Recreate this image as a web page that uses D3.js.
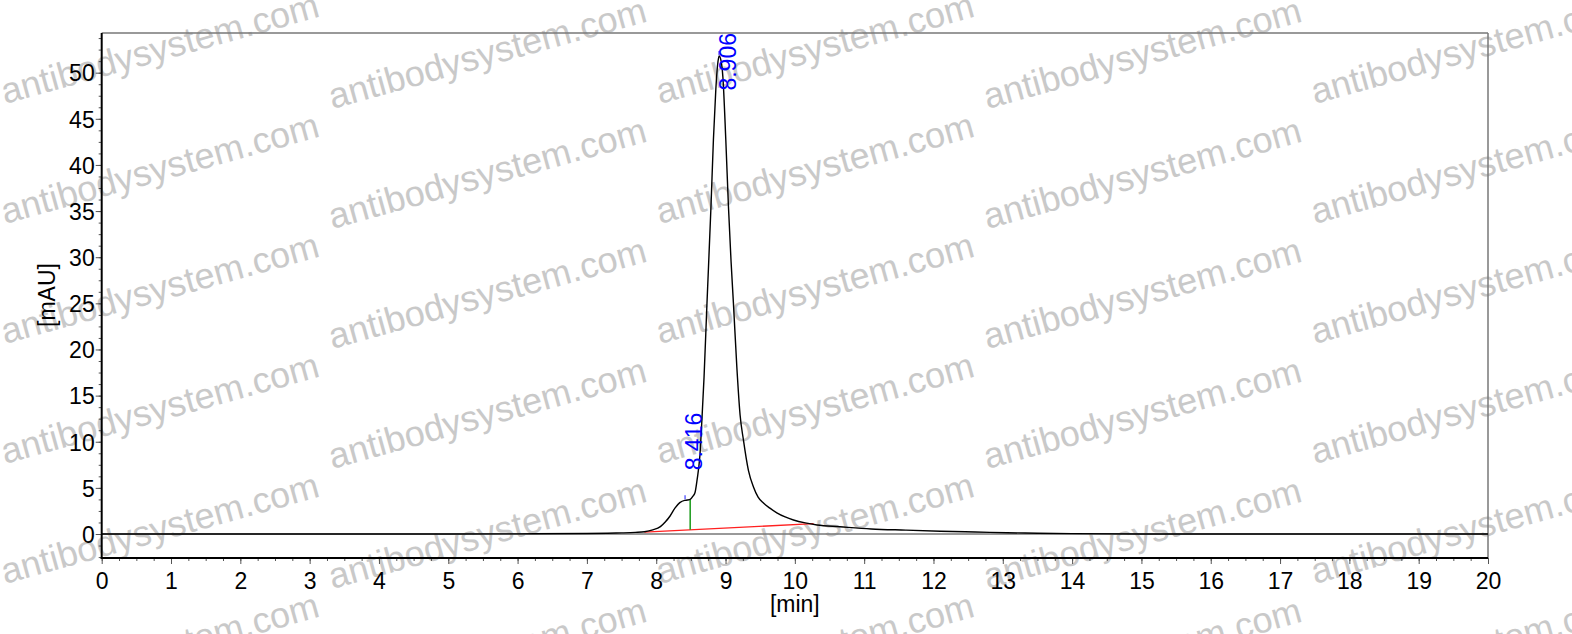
<!DOCTYPE html>
<html>
<head>
<meta charset="utf-8">
<script src="https://cdn.jsdelivr.net/npm/d3@7"></script>
<style>
  body { margin: 0; background: #fff; }
  text { font-family: "Liberation Sans", Arial, sans-serif; }
</style>
</head>
<body>
<div id="chart"></div>
<script>
// chromatogram trace (time in min, signal in mAU)
var times = [0, 5, 6, 7, 7.3, 7.5, 7.7, 7.83, 7.95, 8.06, 8.13, 8.2, 8.27, 8.34, 8.41, 8.45,
  8.49, 8.53, 8.56, 8.59, 8.63, 8.66, 8.69, 8.73, 8.79, 8.825, 8.86, 8.885, 8.907, 8.935,
  8.961, 9.004, 9.042, 9.08, 9.114, 9.163, 9.21, 9.258, 9.33, 9.403, 9.47, 9.547, 9.64,
  9.74, 9.86, 9.98, 10.15, 10.32, 10.65, 11.1, 11.6, 12.1, 12.6, 13.06, 13.5, 14, 15, 20];
var signal = [0, 0, 0.02, 0.05, 0.08, 0.12, 0.18, 0.25, 0.45, 0.8, 1.3, 1.95, 2.8, 3.4, 3.65, 3.68,
  3.75, 4.1, 4.5, 5.9, 8.5, 12.5, 17, 24.6, 35.5, 42.7, 48.2, 50.8, 51.8, 51.3,
  49.6, 42.7, 35.5, 29.5, 25, 18.1, 12.9, 10.2, 6.9, 5.1, 4.0, 3.35, 2.8,
  2.3, 1.85, 1.52, 1.2, 0.98, 0.79, 0.55, 0.42, 0.3, 0.22, 0.14, 0.08, 0.04, 0, 0];

// integration marks
var peakTimes = [8.416, 8.906];
var peakHeights = [3.65, 51.8];
var peakLabels = ['8.416', '8.906'];
var baselineTimes = [7.83, 10.27];
var baselineValues = [0.2, 1.12];
var splitTime = 8.49;
var splitTop = 3.75;

// axes
var xTickLabels = [0, 1, 2, 3, 4, 5, 6, 7, 8, 9, 10, 11, 12, 13, 14, 15, 16, 17, 18, 19, 20];
var yTickLabels = [0, 5, 10, 15, 20, 25, 30, 35, 40, 45, 50];
var xDomain = [0, 20];
var yDomain = [-2.6, 54.3];

var watermark = 'antibodysystem.com';

var svgWidth = 1572;
var svgHeight = 634;
var margin = { top: 33, right: 84, bottom: 76, left: 101.7 };
var width = svgWidth - margin.left - margin.right;
var height = svgHeight - margin.top - margin.bottom;

var svg = d3.select('#chart')
  .append('svg')
  .attr('width', svgWidth)
  .attr('height', svgHeight);

// watermark tiles, behind everything
var wm = svg.append('g');
for (var c = 0; c < 5; c++) {
  for (var r = 0; r < 6; r++) {
    var wx = 5 + 327.5 * c;
    var wy = 104 + 120 * r + (c % 2) * 5;
    wm.append('text')
      .attr('transform', 'translate(' + wx + ',' + wy + ') rotate(-15.5)')
      .attr('font-size', '36px')
      .attr('fill', '#c9c9c9')
      .text(watermark);
  }
}

var chartGroup = svg.append('g')
  .attr('transform', 'translate(' + margin.left + ',' + margin.top + ')');

var xScale = d3.scaleLinear().domain(xDomain).range([0, width]);
var yScale = d3.scaleLinear().domain(yDomain).range([height, 0]);

// minor ticks
var xMinor = d3.range(0, 20.01, 0.25);
var yMinor = d3.range(-2.5, 54.3, 1.25);

var xMinorAxis = chartGroup.append('g')
  .attr('transform', 'translate(0,' + height + ')')
  .call(d3.axisBottom(xScale).tickValues(xMinor).tickSize(3).tickFormat(''));
var yMinorAxis = chartGroup.append('g')
  .call(d3.axisLeft(yScale).tickValues(yMinor).tickSize(3).tickFormat(''));

var xAxis = chartGroup.append('g')
  .attr('transform', 'translate(0,' + height + ')')
  .call(d3.axisBottom(xScale).tickValues(xTickLabels).tickSize(6).tickPadding(3).tickFormat(d3.format('d')));
var yAxis = chartGroup.append('g')
  .call(d3.axisLeft(yScale).tickValues(yTickLabels).tickSize(6).tickPadding(1).tickFormat(d3.format('d')));

[xMinorAxis, yMinorAxis, xAxis, yAxis].forEach(function (g) {
  g.select('.domain').remove();
  g.selectAll('line').attr('stroke', '#555').attr('stroke-width', 1);
  g.selectAll('text')
    .attr('font-family', '"Liberation Sans", Arial, sans-serif')
    .attr('font-size', '23px')
    .attr('fill', '#000');
});
xAxis.selectAll('text').attr('dy', '0.95em');
yAxis.selectAll('text').attr('dy', '0.36em');

// zero line
chartGroup.append('line')
  .attr('x1', 0).attr('x2', width)
  .attr('y1', yScale(0)).attr('y2', yScale(0))
  .attr('stroke', '#777')
  .attr('stroke-width', 1.5);

// frame: top/right grey, left/bottom black
chartGroup.append('line')
  .attr('x1', 0).attr('x2', width).attr('y1', 0).attr('y2', 0)
  .attr('stroke', '#777').attr('stroke-width', 1.5);
chartGroup.append('line')
  .attr('x1', width).attr('x2', width).attr('y1', 0).attr('y2', height)
  .attr('stroke', '#777').attr('stroke-width', 1.5);
chartGroup.append('line')
  .attr('x1', 0).attr('x2', 0).attr('y1', 0).attr('y2', height + 1)
  .attr('stroke', '#000').attr('stroke-width', 2);
chartGroup.append('line')
  .attr('x1', -1).attr('x2', width).attr('y1', height).attr('y2', height)
  .attr('stroke', '#000').attr('stroke-width', 2);

// integration baseline
chartGroup.append('line')
  .attr('x1', xScale(baselineTimes[0])).attr('y1', yScale(baselineValues[0]))
  .attr('x2', xScale(baselineTimes[1])).attr('y2', yScale(baselineValues[1]))
  .attr('stroke', '#ff2020')
  .attr('stroke-width', 1.3);

// drop line between peaks
var baseAtSplit = baselineValues[0] + (splitTime - baselineTimes[0]) /
  (baselineTimes[1] - baselineTimes[0]) * (baselineValues[1] - baselineValues[0]);
chartGroup.append('line')
  .attr('x1', xScale(splitTime)).attr('x2', xScale(splitTime))
  .attr('y1', yScale(splitTop)).attr('y2', yScale(baseAtSplit))
  .attr('stroke', '#1a9a1a')
  .attr('stroke-width', 1.5);

// trace
var trace = times.map(function (t, i) { return [t, signal[i]]; });
var line = d3.line()
  .x(function (d) { return xScale(d[0]); })
  .y(function (d) { return yScale(d[1]); })
  .curve(d3.curveMonotoneX);

chartGroup.append('path')
  .datum(trace)
  .attr('fill', 'none')
  .attr('stroke', '#000')
  .attr('stroke-width', 1.4)
  .attr('d', line);

// apex markers and retention time labels
peakTimes.forEach(function (t, i) {
  var px = xScale(t);
  var py = yScale(peakHeights[i]);
  chartGroup.append('line')
    .attr('x1', px).attr('x2', px)
    .attr('y1', py - 5).attr('y2', py - 1)
    .attr('stroke', '#4040ff')
    .attr('stroke-width', 1.2);

  var label = chartGroup.append('text')
    .attr('font-size', '23px')
    .attr('fill', '#0000ff')
    .text(peakLabels[i]);
  var len = label.node().getComputedTextLength();
  var start = Math.max(py - 30, len);
  label.attr('transform', 'translate(' + (px + 17) + ',' + start + ') rotate(-90)');
});

// axis titles
svg.append('text')
  .attr('transform', 'translate(55,' + (margin.top + 262) + ') rotate(-90)')
  .attr('text-anchor', 'middle')
  .attr('font-size', '23px')
  .attr('fill', '#000')
  .text('[mAU]');

svg.append('text')
  .attr('x', margin.left + xScale(10))
  .attr('y', 612)
  .attr('text-anchor', 'middle')
  .attr('font-size', '23px')
  .attr('fill', '#000')
  .text('[min]');
</script>
</body>
</html>
